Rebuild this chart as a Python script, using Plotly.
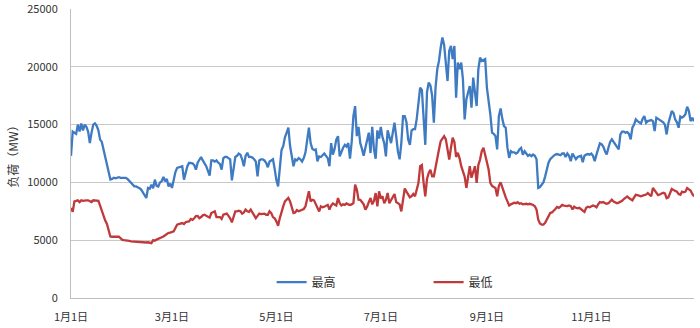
import pandas as pd
import plotly.graph_objects as go

# Daily load, MW (Jan 1 .. Dec 31)
max_load = [
    12300, 14400, 14300, 14200, 15000, 14400, 15100, 14500, 15000, 14800,
    14400, 13400, 14300, 15000, 15100, 14900, 14500, 13700, 13500, 12800,
    12200, 11600, 10800, 10250, 10300, 10400, 10350, 10400, 10450, 10400,
    10400, 10350, 10400, 10300, 10150, 9950, 9800, 9660, 9650, 9600,
    9500, 9380, 9100, 8900, 8650, 9520, 9450, 9800, 9500, 10240,
    9700, 9650, 10000, 10100, 10470, 10100, 10300, 9650, 9900, 9520,
    10250, 10900, 11250, 11300, 11350, 11400, 10240, 10900, 11400, 11700,
    11700, 11650, 11500, 11100, 11700, 11900, 12200, 11900, 11700, 11400,
    11000, 10590, 11900, 11900, 11800, 11900, 11700, 11600, 11100, 12100,
    12200, 12200, 12100, 12000, 10180, 11400, 12200, 12300, 12500, 12400,
    12000, 11400, 12300, 12560, 12200, 12200, 12150, 12000, 11800, 10530,
    11900, 12000, 12000, 11900, 11700, 11310, 11800, 11900, 12000, 11170,
    10200, 9660, 11300, 12800, 13130, 13900, 14300, 14730, 13150, 12300,
    11400, 12000, 11900, 12100, 12000, 11800, 12100, 12600, 13700, 14730,
    13400, 12900, 12800, 12840, 11830, 12250, 12200, 12400, 12500, 12300,
    12100, 11400, 13400, 12400, 12900, 13700, 14000, 12250, 12700, 13000,
    13250, 13100, 13400, 12050, 13500, 15740, 16600, 14000, 14800, 13400,
    12900, 12300, 13000, 13600, 14300, 12540, 14800, 12900, 12050, 14500,
    13800, 14800, 13900, 13400, 12250, 14500, 13800, 13400, 14300, 15160,
    14000, 12700, 12000, 13400, 15740, 15740, 15200, 13700, 13250, 14500,
    14600, 14600, 15500, 16900, 18200, 18000, 16040, 13250, 17800, 18640,
    18400, 17500, 15160, 18200, 19800, 20510, 21670, 22540, 21900, 20080,
    18770, 21380, 21800, 20660, 21800, 17330, 20370, 19790, 20370, 18920,
    15450, 17190, 17800, 18340, 16470, 19070, 17800, 16610, 19790, 20800,
    20510, 20600, 20660, 18200, 17190, 15880, 14300, 14200, 14000, 12850,
    15740, 16400, 15500, 14870, 14730, 13000, 12120, 12700, 12600, 12600,
    12500, 12600, 12850, 12990, 12400, 12700, 12500, 12300, 12400, 12270,
    12410, 12300, 12000, 9520, 9600, 9780, 10000, 10500, 11260, 11700,
    12000, 12200, 12300, 12400, 12450, 12400, 12350, 12500, 12500, 12200,
    12500, 12300, 11830, 12500, 12300, 12000, 12200, 12250, 12300, 11740,
    12300, 12400, 12450, 12400, 12500, 12300, 11830, 12400, 12990, 13370,
    13300, 13100, 12700, 12410, 13000, 13500, 13720, 13500, 13300, 13000,
    12850, 14150, 14400, 14400, 14300, 14350, 14200, 13720, 14730, 15000,
    15450, 15300, 15200, 15100, 15500, 15740, 15160, 15300, 15350, 15400,
    15300, 14440, 15600, 15500, 15450, 15300, 15200, 15000, 14150, 15100,
    15600, 16170, 16000, 15450, 15200, 14730, 15700, 15600, 15700, 15900,
    16550, 16200, 15300, 15600, 15300,
]

min_load = [
    7780, 7450, 8360, 8400, 8450, 8300, 8450, 8400, 8450, 8450,
    8450, 8400, 8300, 8450, 8450, 8450, 8400, 8000, 7500, 7060,
    6700, 6400, 5760, 5320, 5300, 5280, 5320, 5300, 5300, 5150,
    5030, 5000, 5000, 4950, 4950, 4900, 4890, 4850, 4850, 4800,
    4800, 4820, 4800, 4780, 4800, 4820, 4780, 4740, 5000, 4950,
    5050, 5100, 5180, 5250, 5320, 5450, 5550, 5640, 5650, 5700,
    5760, 6050, 6340, 6400, 6420, 6480, 6400, 6560, 6600, 6630,
    6840, 6760, 6900, 7090, 7100, 6910, 7000, 7150, 7200, 7100,
    7000, 6950, 7350, 7450, 7500, 7000, 7000, 7000, 6840, 7200,
    7250, 7300, 7100, 6900, 6540, 7100, 7500, 7500, 7550, 7500,
    7300, 7400, 7650, 7500, 7450, 7650, 7400, 7200, 6910, 7100,
    7300, 7250, 7250, 7300, 7200, 7200, 7500, 7350, 7000, 6900,
    6630, 6250, 6910, 7500, 7930, 8360, 8500, 8650, 8360, 7800,
    7350, 7400, 7600, 7500, 7550, 7600, 7700, 7930, 8650, 9230,
    8360, 8500, 8450, 8100, 7700, 7490, 7930, 7850, 7900, 8000,
    8060, 7640, 8000, 8180, 8100, 8000, 8650, 8200, 8000, 8100,
    8050, 8180, 8100, 8050, 8100, 8200, 9810, 9380, 8510, 8500,
    8300, 8100, 7640, 7900, 8300, 8650, 8100, 8400, 9080, 7930,
    9230, 8600, 8800, 8200, 8500, 9080, 8200, 8500, 8800, 9000,
    8300, 8200, 8100, 7490, 8500, 9470, 9200, 8900, 8700, 8800,
    9000, 8800, 9300, 9950, 11400, 11500, 10000, 8800, 10300, 10820,
    11100, 10530, 10530, 11400, 12000, 12850, 13570, 13800, 14000, 13720,
    13000, 11980, 13000, 13860, 13500, 12200, 12560, 12100, 11400, 11000,
    10500, 9520, 10530, 11400, 10400, 11000, 11400, 9950, 11500, 11980,
    12700, 13000, 12400, 11800, 11110, 9950, 9700, 9600, 9520, 8800,
    9700, 10010, 9500, 9000, 8700, 8360, 8000, 8100, 8200, 8250,
    8200, 8290, 8150, 8200, 8100, 8150, 8150, 8100, 8150, 8100,
    8050, 7930, 7640, 6770, 6450, 6340, 6340, 6500, 6770, 7100,
    7350, 7400, 7600, 7700, 7870, 7800, 7900, 8050, 8000, 7950,
    7950, 8000, 7950, 7660, 7900, 7800, 7750, 7800, 7700, 7600,
    7450, 7800, 7900, 7850, 7900, 8000, 7950, 7850, 8100, 8290,
    8250, 8300, 8200, 8150, 8200, 8400, 8500, 8350, 8300, 8200,
    8250, 8300, 8400, 8560, 8700, 8790, 8650, 8550, 8440, 8700,
    8930, 8900, 8850, 8800, 8850, 8900, 8950, 9080, 8950, 8800,
    9520, 9300, 9100, 8900, 8950, 9000, 9100, 9050, 8640, 8700,
    9100, 9430, 9350, 9300, 9200, 9000, 8930, 9200, 9150, 9200,
    9520, 9400, 9300, 9000, 8790,
]

dates = pd.date_range("2013-01-01", periods=len(max_load), freq="D")
tick_dates = ["2013-01-01", "2013-03-01", "2013-05-01", "2013-07-01", "2013-09-01", "2013-11-01"]
tick_labels = ["1月1日", "3月1日", "5月1日", "7月1日", "9月1日", "11月1日"]
y_ticks = [0, 5000, 10000, 15000, 20000, 25000]

FONT = "Noto Sans CJK SC"

fig = go.Figure()
fig.add_trace(go.Scatter(x=dates, y=max_load, mode="lines", name="最高",
                         line=dict(color="#3E7BC2", width=2.3)))
fig.add_trace(go.Scatter(x=dates, y=min_load, mode="lines", name="最低",
                         line=dict(color="#C0393B", width=2.3)))

fig.update_layout(
    width=700, height=328,
    margin=dict(l=71, r=6, t=9, b=30),
    paper_bgcolor="white", plot_bgcolor="white",
    font=dict(family=FONT, size=11, color="#333333"),
    showlegend=True,
    legend=dict(orientation="h", x=0.322, y=0.055, xanchor="left", yanchor="middle",
                bgcolor="rgba(0,0,0,0)", font=dict(size=12, color="#333333"),
                entrywidth=112, entrywidthmode="pixels", itemwidth=30),
)
fig.update_xaxes(
    range=["2013-01-01", "2013-12-31"], automargin=False,
    tickmode="array", tickvals=tick_dates, ticktext=tick_labels,
    showgrid=False, showline=True, linecolor="#BFBFBF", linewidth=1,
    ticks="", ticklabelstandoff=9, ticklabeloverflow="allow",
    tickfont=dict(size=11, color="#333333"),
)
fig.update_yaxes(
    range=[0, 25000], automargin=False, tickmode="array", tickvals=y_ticks,
    tickformat="d", showgrid=True, gridcolor="#C8C8C8", gridwidth=1,
    showline=True, linecolor="#BFBFBF", linewidth=1, zeroline=False,
    ticks="", ticklabelstandoff=10, ticklabeloverflow="allow",
    tickfont=dict(size=11, color="#333333"),
    title=dict(text="负荷（MW）", font=dict(size=12, color="#333333"), standoff=6),
)

fig.write_html("out.html")
